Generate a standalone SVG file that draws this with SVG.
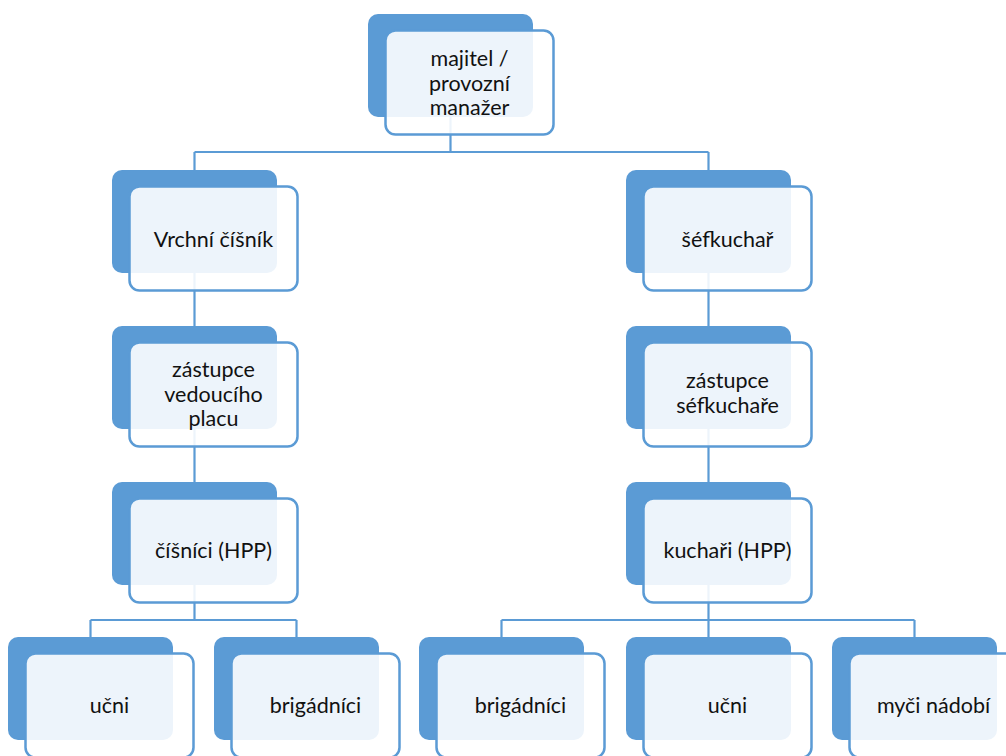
<svg xmlns="http://www.w3.org/2000/svg" width="1006" height="756" viewBox="0 0 1006 756">
<style>
.back{fill:#5B9BD5;}
.front{fill:#ffffff;fill-opacity:0.89;stroke:#5B9BD5;stroke-width:2.5;}
.conn{fill:none;stroke:#5B9BD5;stroke-width:2.2;}
text{font-family:Lato,"Liberation Sans",sans-serif;font-size:21.5px;font-weight:400;fill:#111;text-anchor:middle;}
</style>
<rect width="1006" height="756" fill="#ffffff"/>
<g id="connectors">
<path class="conn" d="M450.5 117V152M194.5 152H708.5M194.5 152V170M708.5 152V170"/>
<path class="conn" d="M194.5 273V326M194.5 429V482M194.5 585V620M90.5 620H296.5M90.5 620V637M296.5 620V637"/>
<path class="conn" d="M708.5 273V326M708.5 429V482M708.5 585V620M501.5 620H914.5M501.5 620V637M708.5 620V637M914.5 620V637"/>
</g>
<g id="n-majitel">
<rect class="back" x="368" y="14" width="165" height="103" rx="10"/>
<rect class="front" x="385.5" y="30.5" width="168" height="104" rx="10"/>
<text x="469.5" y="66">majitel /</text>
<text x="469.5" y="91">provozní</text>
<text x="469.5" y="115">manažer</text>
</g>
<g id="n-vrchni">
<rect class="back" x="112" y="170" width="165" height="103" rx="10"/>
<rect class="front" x="129.5" y="186.5" width="168" height="104" rx="10"/>
<text x="213.5" y="247">Vrchní číšník</text>
</g>
<g id="n-zastupce-vedouciho">
<rect class="back" x="112" y="326" width="165" height="103" rx="10"/>
<rect class="front" x="129.5" y="342.5" width="168" height="104" rx="10"/>
<text x="213.5" y="377">zástupce</text>
<text x="213.5" y="402">vedoucího</text>
<text x="213.5" y="426">placu</text>
</g>
<g id="n-cisnici">
<rect class="back" x="112" y="482" width="165" height="103" rx="10"/>
<rect class="front" x="129.5" y="498.5" width="168" height="104" rx="10"/>
<text x="213.5" y="558">číšníci (HPP)</text>
</g>
<g id="n-sefkuchar">
<rect class="back" x="626" y="170" width="165" height="103" rx="10"/>
<rect class="front" x="643.5" y="186.5" width="168" height="104" rx="10"/>
<text x="727.5" y="247">šéfkuchař</text>
</g>
<g id="n-zastupce-sefkuchare">
<rect class="back" x="626" y="326" width="165" height="103" rx="10"/>
<rect class="front" x="643.5" y="342.5" width="168" height="104" rx="10"/>
<text x="727.5" y="388">zástupce</text>
<text x="727.5" y="413">séfkuchaře</text>
</g>
<g id="n-kuchari">
<rect class="back" x="626" y="482" width="165" height="103" rx="10"/>
<rect class="front" x="643.5" y="498.5" width="168" height="104" rx="10"/>
<text x="727.5" y="558">kuchaři (HPP)</text>
</g>
<g id="n-ucni-1">
<rect class="back" x="8" y="637" width="165" height="103" rx="10"/>
<rect class="front" x="25.5" y="653.5" width="168" height="104" rx="10"/>
<text x="109.5" y="713">učni</text>
</g>
<g id="n-brigadnici-1">
<rect class="back" x="214" y="637" width="165" height="103" rx="10"/>
<rect class="front" x="231.5" y="653.5" width="168" height="104" rx="10"/>
<text x="315.5" y="713">brigádníci</text>
</g>
<g id="n-brigadnici-2">
<rect class="back" x="419" y="637" width="165" height="103" rx="10"/>
<rect class="front" x="436.5" y="653.5" width="168" height="104" rx="10"/>
<text x="520.5" y="713">brigádníci</text>
</g>
<g id="n-ucni-2">
<rect class="back" x="626" y="637" width="165" height="103" rx="10"/>
<rect class="front" x="643.5" y="653.5" width="168" height="104" rx="10"/>
<text x="727.5" y="713">učni</text>
</g>
<g id="n-myci">
<rect class="back" x="832" y="637" width="165" height="103" rx="10"/>
<rect class="front" x="849.5" y="653.5" width="168" height="104" rx="10"/>
<text x="933.5" y="713">myči nádobí</text>
</g>
</svg>
